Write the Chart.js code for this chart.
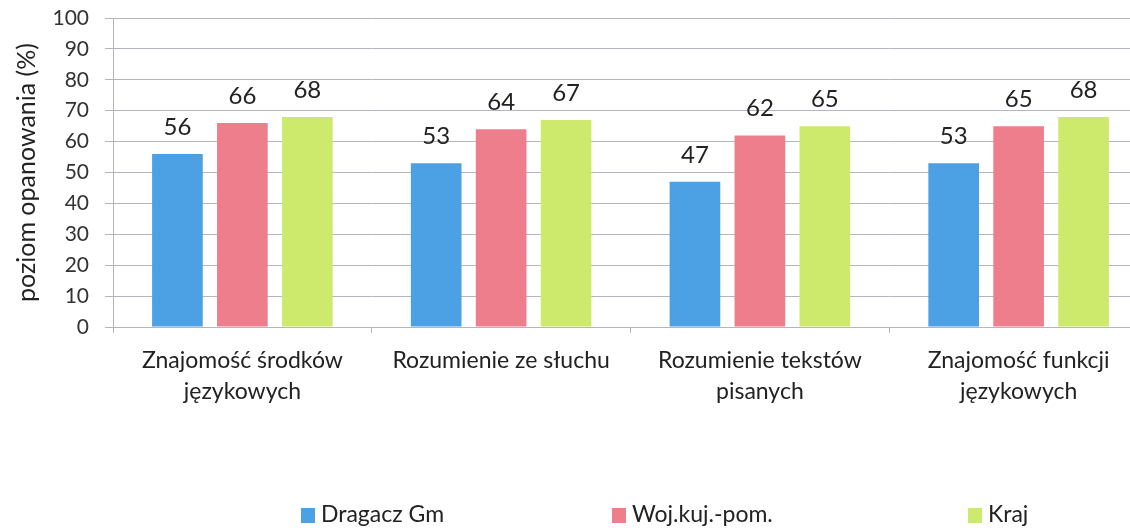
<!DOCTYPE html>
<html><head><meta charset="utf-8">
<script src="https://cdn.jsdelivr.net/npm/chart.js@4.4.1/dist/chart.umd.min.js"></script>
<style>
html,body{margin:0;padding:0;background:#fff;overflow:hidden;width:1130px;height:528px;}
#wrap{position:absolute;left:0;top:0;width:1150px;height:528px;}
</style></head>
<body><div id="wrap"><canvas id="c" width="1150" height="528"></canvas></div>
<script>
const categories = [
  ["Znajomość środków","językowych"],
  "Rozumienie ze słuchu",
  ["Rozumienie tekstów","pisanych"],
  ["Znajomość funkcji","językowych"]
];
const seriesNames = ["Dragacz Gm","Woj.kuj.-pom.","Kraj"];
const dragacz = [56, 53, 47, 53];
const woj = [66, 64, 62, 65];
const kraj = [68, 67, 65, 68];
const yTicks = [0,10,20,30,40,50,60,70,80,90,100];
const colors = ["#4ca0e4","#ef7e8c","#cdea6c"];
const FONT = "Lato, 'Open Sans', sans-serif";

const valueLabels = {
  id:'valueLabels',
  afterDatasetsDraw(chart){
    const ctx = chart.ctx;
    ctx.save();
    ctx.font = "24px " + FONT;
    ctx.fillStyle = "#222";
    ctx.textAlign = "center";
    ctx.textBaseline = "middle";
    chart.data.datasets.forEach((ds,i)=>{
      chart.getDatasetMeta(i).data.forEach((bar,j)=>{
        ctx.fillText(String(ds.data[j]), bar.x, bar.y - 27);
      });
    });
    ctx.restore();
  }
};

const customLegend = {
  id:'customLegend',
  afterDraw(chart){
    const ctx = chart.ctx;
    ctx.save();
    ctx.font = "23px " + FONT;
    ctx.textBaseline = "middle";
    ctx.textAlign = "left";
    const y = 515;
    const starts = [301, 612, 968];
    chart.data.datasets.forEach((ds,i)=>{
      const x = starts[i];
      ctx.fillStyle = ds.backgroundColor;
      ctx.fillRect(x, y-7, 14, 15);
      ctx.fillStyle = "#222";
      ctx.fillText(ds.label, x + 20, y);
    });
    ctx.restore();
  }
};

new Chart(document.getElementById('c'), {
  type:'bar',
  data:{
    labels: categories,
    datasets:[
      {label:seriesNames[0], data:dragacz, backgroundColor:colors[0]},
      {label:seriesNames[1], data:woj, backgroundColor:colors[1]},
      {label:seriesNames[2], data:kraj, backgroundColor:colors[2]}
    ]
  },
  options:{
    responsive:false,
    animation:false,
    devicePixelRatio:1,
    layout:{padding:{top:18,left:12,right:2,bottom:111}},
    categoryPercentage:0.753,
    barPercentage:0.78,
    plugins:{legend:{display:false}, tooltip:{enabled:false}},
    scales:{
      y:{
        min:0,max:100,
        afterBuildTicks(s){ s.ticks = yTicks.map(v=>({value:v})); },
        afterFit(s){ s.width = 101; s.paddingTop = 0; s.paddingBottom = 0; },
        ticks:{font:{family:FONT,size:21},color:"#333",padding:16},
        grid:{color:"#b5b5c0",lineWidth:1,tickLength:8,drawTicks:true},
        border:{color:"#b5b5c0"},
        title:{display:true,text:"poziom opanowania (%)",font:{family:FONT,size:25},color:"#222",padding:{top:0,bottom:4}}
      },
      x:{
        afterFit(s){ s.height = 90; s.paddingLeft = 0; s.paddingRight = 0; },
        ticks:{font:{family:FONT,size:23,lineHeight:1.35},color:"#222",padding:12,maxRotation:0,autoSkip:false},
        grid:{drawOnChartArea:false,offset:true,tickLength:6,color:"#b5b5c0"},
        border:{color:"#b5b5c0"}
      }
    }
  },
  plugins:[valueLabels, customLegend]
});
</script></body></html>
